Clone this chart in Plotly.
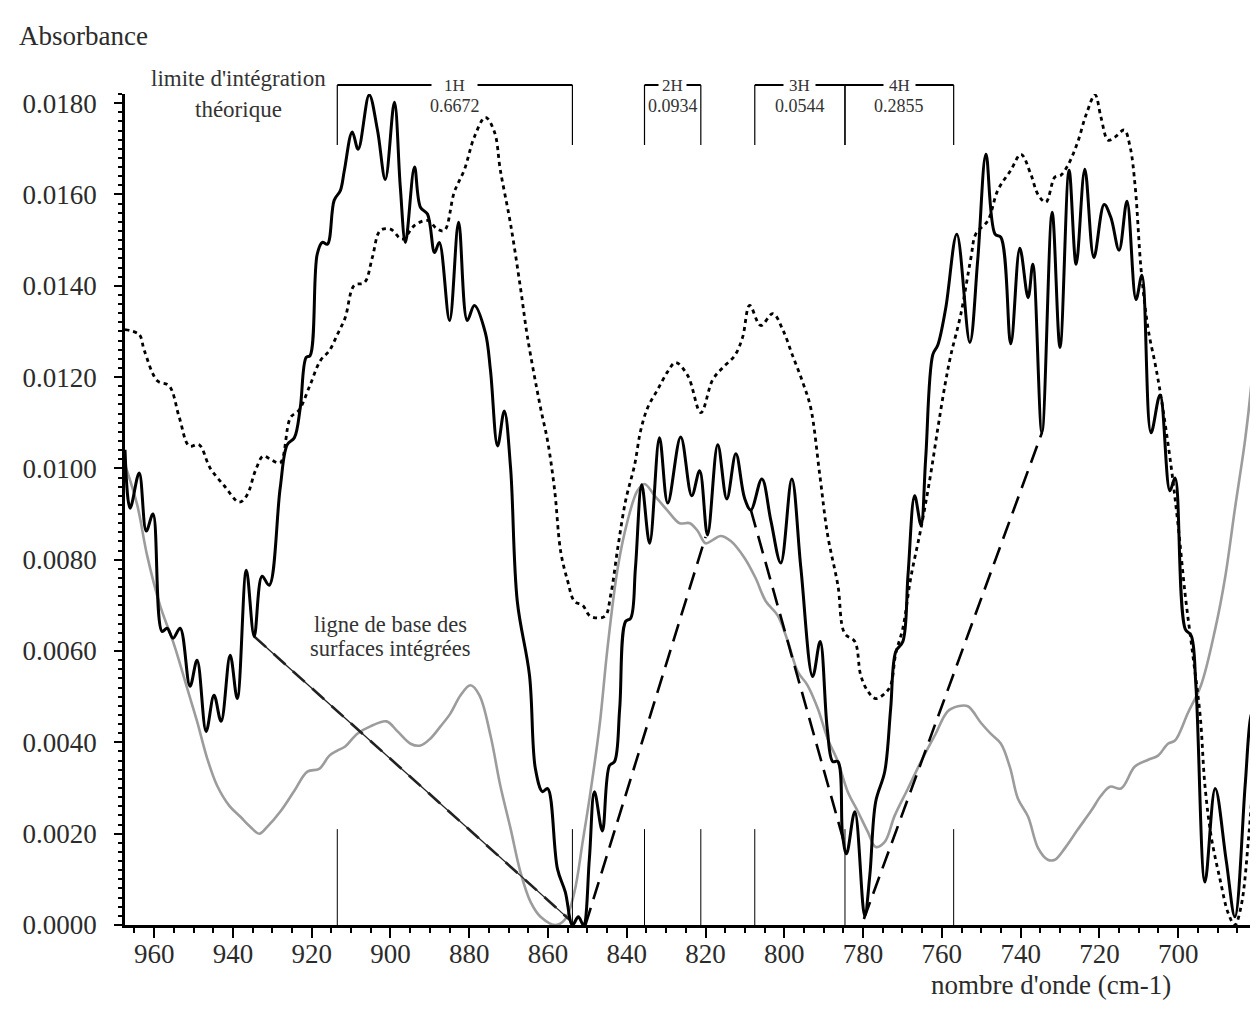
import plotly.graph_objects as go

# ---------------- data (wavenumber cm-1, absorbance) ----------------
solid_x = [967.4, 966.1, 963.8, 962.0, 960.3, 958.0, 956.7, 955.2, 953.4, 950.9, 949.1, 946.8, 944.8, 943.0,
           940.7, 938.9, 936.6, 934.6, 932.6, 930.8, 928.0, 926.2, 924.4, 922.9, 921.4, 920.4, 918.6, 917.3,
           916.0, 914.3, 912.7, 911.7, 909.7, 908.2, 905.4, 903.3, 901.3, 899.0, 897.5, 896.2, 893.9, 892.4,
           890.6, 888.8, 887.6, 885.0, 882.7, 880.5, 878.7, 875.9, 874.6, 872.8, 871.1, 869.5, 867.8, 864.7,
           863.2, 861.4, 860.1, 857.6, 855.6, 853.8, 852.3, 851.0, 849.5, 848.2, 846.2, 844.4, 843.1, 841.8,
           840.3, 839.0, 837.8, 836.2, 834.2, 831.7, 829.6, 826.3, 823.5, 821.5, 819.5, 816.9, 814.6, 812.3,
           810.1, 808.5, 805.7, 803.4, 800.9, 798.1, 795.8, 792.8, 790.9, 789.1, 787.7, 786.4, 785.2, 784.2,
           782.1, 779.6, 778.3, 776.8, 774.5, 773.0, 771.7, 769.9, 768.6, 766.9, 765.3, 764.1, 762.3, 761.0,
           759.0, 756.2, 752.9, 750.9, 748.8, 746.5, 745.0, 742.5, 740.2, 738.1, 736.9, 734.6, 732.0, 730.0,
           727.7, 725.9, 723.7, 721.4, 718.8, 717.1, 715.0, 713.0, 710.7, 709.2, 706.9, 704.6, 702.1, 700.8,
           698.2, 696.7, 695.5, 693.2, 690.6, 687.8, 685.6, 683.0, 681.7, 680.5, 679.2, 677.7]
solid_y = [0.01041, 0.00913, 0.00990, 0.00863, 0.00900, 0.00643, 0.00650, 0.00628, 0.00650, 0.00523, 0.00580,
           0.00424, 0.00503, 0.00446, 0.00591, 0.00496, 0.00777, 0.00632, 0.00764, 0.00744, 0.00957, 0.01052,
           0.01067, 0.01133, 0.01243, 0.01247, 0.01469, 0.01495, 0.01491, 0.01587, 0.01609, 0.01653, 0.01737,
           0.01699, 0.01818, 0.01741, 0.01633, 0.01802, 0.01616, 0.01495, 0.01660, 0.01572, 0.01557, 0.01473,
           0.01495, 0.01324, 0.01539, 0.01324, 0.01357, 0.01297, 0.01214, 0.01049, 0.01126, 0.01001, 0.00709,
           0.00547, 0.00342, 0.00292, 0.00299, 0.00123, 0.00072, 0.00000, 0.00018, 0.00000, 0.00145, 0.00292,
           0.00206, 0.00349, 0.00358, 0.00474, 0.00665, 0.00672, 0.00782, 0.00964, 0.00836, 0.01067, 0.00924,
           0.01069, 0.00940, 0.00995, 0.00854, 0.01052, 0.00933, 0.01032, 0.00935, 0.00909, 0.00977, 0.00885,
           0.00793, 0.00977, 0.00782, 0.00544, 0.00621, 0.00430, 0.00358, 0.00358, 0.00195, 0.00156, 0.00248,
           0.00020, 0.00108, 0.00270, 0.00336, 0.00474, 0.00599, 0.00621, 0.00766, 0.00940, 0.00876, 0.01023,
           0.01249, 0.01271, 0.01352, 0.01513, 0.01276, 0.01456, 0.01688, 0.01513, 0.01506, 0.01273, 0.01482,
           0.01374, 0.01447, 0.01078, 0.01561, 0.01265, 0.01653, 0.01447, 0.01655, 0.01462, 0.01578, 0.01550,
           0.01478, 0.01585, 0.01370, 0.01423, 0.01078, 0.01161, 0.00951, 0.00979, 0.00648, 0.00634, 0.00525,
           0.00094, 0.00299, 0.00141, 0.00018, 0.00305, 0.00450, 0.00496, 0.00951, 0.01210]

dotted_x = [967.4, 963.8, 962.5, 959.2, 956.2, 953.6, 951.1, 948.6, 945.8, 942.2, 938.4, 936.4, 934.3, 932.3,
            930.3, 928.0, 925.4, 923.2, 920.4, 917.8, 915.5, 913.5, 911.5, 909.2, 906.6, 904.6, 902.6, 900.0,
            897.0, 893.9, 890.6, 888.1, 886.3, 883.8, 881.2, 878.7, 875.9, 873.6, 872.1, 869.5, 867.0, 865.2,
            861.9, 860.1, 858.3, 856.8, 855.0, 853.3, 851.2, 849.2, 845.6, 844.1, 842.3, 840.3, 838.0, 836.5,
            834.7, 832.2, 829.6, 827.6, 824.5, 821.2, 818.2, 815.6, 812.6, 810.6, 808.8, 806.0, 802.9, 800.4,
            797.9, 795.3, 793.3, 791.0, 789.0, 786.4, 784.7, 782.1, 780.6, 778.8, 776.8, 774.5, 773.0, 771.7,
            769.9, 767.9, 765.3, 763.0, 761.0, 759.2, 757.7, 755.2, 752.6, 751.4, 748.3, 745.8, 742.5, 739.9,
            737.4, 735.6, 733.6, 731.3, 729.8, 728.0, 725.5, 723.4, 721.1, 719.6, 717.8, 716.0, 713.7, 712.2,
            710.9, 709.4, 707.6, 705.8, 704.4, 701.8, 700.0, 698.2, 696.2, 694.4, 693.2, 691.6, 689.4, 687.3,
            685.6, 684.0, 682.1, 680.5, 679.2, 677.7]
dotted_y = [0.01304, 0.01293, 0.01258, 0.01192, 0.01181, 0.01111, 0.01049, 0.01052, 0.01001, 0.00962, 0.00926,
            0.00942, 0.00995, 0.01027, 0.01019, 0.01012, 0.01111, 0.01128, 0.01183, 0.01236, 0.01258, 0.01293,
            0.01330, 0.01401, 0.01407, 0.01462, 0.01521, 0.01524, 0.01502, 0.01532, 0.01543, 0.01524, 0.01521,
            0.01605, 0.01655, 0.01726, 0.01769, 0.01737, 0.01653, 0.01535, 0.01396, 0.01287, 0.01133, 0.01060,
            0.00951, 0.00819, 0.00753, 0.00709, 0.00700, 0.00676, 0.00676, 0.00722, 0.00825, 0.00929, 0.01008,
            0.01082, 0.01133, 0.01172, 0.01212, 0.01232, 0.01203, 0.01122, 0.01194, 0.01221, 0.01247, 0.01287,
            0.01357, 0.01313, 0.01339, 0.01304, 0.01247, 0.01188, 0.01133, 0.00986, 0.00854, 0.00744, 0.00639,
            0.00621, 0.00547, 0.00512, 0.00496, 0.00507, 0.00525, 0.00595, 0.00650, 0.00760, 0.00869, 0.00979,
            0.01089, 0.01183, 0.01249, 0.01337, 0.01462, 0.01513, 0.01543, 0.01609, 0.01653, 0.01688, 0.01644,
            0.01600, 0.01583, 0.01638, 0.01642, 0.01664, 0.01715, 0.01774, 0.01818, 0.01769, 0.01719, 0.01726,
            0.01741, 0.01704, 0.01616, 0.01434, 0.01304, 0.01227, 0.01159, 0.01005, 0.00874, 0.00722, 0.00586,
            0.00457, 0.00305, 0.00193, 0.00101, 0.00026, 0.00000, 0.00042, 0.00193, 0.00382, 0.00571, 0.00782]

gray_x = [967.4, 964.3, 961.8, 958.5, 954.9, 951.6, 949.1, 946.5, 944.0, 940.9, 938.1, 935.6, 933.3, 931.3,
          928.0, 924.4, 921.1, 918.1, 915.5, 913.5, 911.5, 908.4, 905.1, 901.0, 898.2, 894.9, 892.4, 889.9,
          887.3, 884.8, 882.2, 879.7, 877.4, 874.6, 872.1, 869.5, 867.0, 864.4, 861.9, 858.1, 855.6, 853.3,
          851.2, 849.2, 846.9, 844.9, 842.3, 839.8, 837.3, 835.5, 832.9, 829.6, 826.6, 824.0, 822.0, 820.0,
          818.2, 816.2, 813.6, 810.1, 807.3, 804.7, 801.7, 799.1, 796.6, 794.1, 791.5, 789.0, 786.4, 783.9,
          781.3, 778.8, 776.8, 774.5, 772.0, 768.6, 765.3, 761.8, 758.5, 755.9, 753.4, 750.1, 747.6, 745.0,
          742.7, 740.7, 738.1, 735.6, 733.1, 731.3, 728.7, 725.5, 722.1, 719.6, 717.3, 714.5, 711.0, 707.6,
          705.1, 702.6, 700.8, 697.5, 694.2, 690.6, 688.1, 685.6, 683.0, 681.5, 679.7, 677.7]
gray_y = [0.01008, 0.00920, 0.00810, 0.00700, 0.00613, 0.00518, 0.00446, 0.00364, 0.00305, 0.00261, 0.00237,
          0.00215, 0.00200, 0.00215, 0.00248, 0.00294, 0.00336, 0.00342, 0.00371, 0.00382, 0.00391, 0.00419,
          0.00435, 0.00446, 0.00424, 0.00397, 0.00393, 0.00408, 0.00435, 0.00463, 0.00503, 0.00525, 0.00503,
          0.00415, 0.00305, 0.00211, 0.00116, 0.00050, 0.00018, 0.00000, 0.00013, 0.00072, 0.00182, 0.00292,
          0.00437, 0.00606, 0.00782, 0.00885, 0.00951, 0.00966, 0.00940, 0.00907, 0.00880, 0.00880, 0.00863,
          0.00836, 0.00843, 0.00852, 0.00841, 0.00804, 0.00760, 0.00709, 0.00678, 0.00621, 0.00555, 0.00525,
          0.00474, 0.00408, 0.00358, 0.00292, 0.00248, 0.00204, 0.00171, 0.00182, 0.00239, 0.00299, 0.00358,
          0.00415, 0.00468, 0.00479, 0.00479, 0.00443, 0.00419, 0.00397, 0.00345, 0.00277, 0.00237, 0.00169,
          0.00143, 0.00143, 0.00169, 0.00209, 0.00250, 0.00283, 0.00303, 0.00299, 0.00347, 0.00362, 0.00371,
          0.00397, 0.00404, 0.00465, 0.00525, 0.00648, 0.00760, 0.00911, 0.01063, 0.01177, 0.01381, 0.01578]

# integration baselines (start, end) pairs
baseline1_x = [934.6, 854.2]
baseline1_y = [0.00632, 0.00009]
baseline2_x = [850.5, 820.0]
baseline2_y = [0.00000, 0.00850]
baseline3_x = [808.5, 784.8]
baseline3_y = [0.00909, 0.00180]
baseline4_x = [779.8, 734.6]
baseline4_y = [0.00013, 0.01078]

# theoretical integration limits
limits = [913.5, 853.8, 835.5, 821.2, 807.5, 784.6, 757.0]
groups = [(913.5, 853.8), (835.5, 821.2), (807.5, 784.6), (784.6, 757.0)]
group_labels = ["1H", "2H", "3H", "4H"]
group_values = ["0.6672", "0.0934", "0.0544", "0.2855"]

x_ticks = [960, 940, 920, 900, 880, 860, 840, 820, 800, 780, 760, 740, 720, 700]
y_ticks = [0.0, 0.002, 0.004, 0.006, 0.008, 0.010, 0.012, 0.014, 0.016, 0.018]

FONT = "Liberation Serif, Times New Roman, serif"
TXT = "#2b2b2b"

fig = go.Figure()
fig.add_trace(go.Scatter(x=gray_x, y=gray_y, mode="lines",
                         line=dict(color="#9c9c9c", width=2.6, shape="spline", smoothing=1.0), hoverinfo="skip"))
fig.add_trace(go.Scatter(x=dotted_x, y=dotted_y, mode="lines",
                         line=dict(color="black", width=2.8, dash="4px,4px", shape="spline", smoothing=1.0),
                         hoverinfo="skip"))
fig.add_trace(go.Scatter(x=baseline1_x, y=baseline1_y, mode="lines",
                         line=dict(color="#222", width=1.3), hoverinfo="skip"))
fig.add_trace(go.Scatter(x=baseline1_x, y=baseline1_y, mode="lines",
                         line=dict(color="#222", width=2.6, dash="16px,10px"), hoverinfo="skip"))
for bx, by in [(baseline2_x, baseline2_y), (baseline3_x, baseline3_y), (baseline4_x, baseline4_y)]:
    fig.add_trace(go.Scatter(x=bx, y=by, mode="lines",
                             line=dict(color="black", width=2.6, dash="18px,9px"), hoverinfo="skip"))
fig.add_trace(go.Scatter(x=solid_x, y=solid_y, mode="lines",
                         line=dict(color="black", width=3, shape="spline", smoothing=1.0), hoverinfo="skip"))

# vertical limit markers at the bottom
for lx in limits:
    fig.add_shape(type="line", xref="x", yref="y", x0=lx, x1=lx, y0=0, y1=0.0021,
                  line=dict(color="black", width=1))

# brackets at the top
Y_TOP = 1.0108
Y_BOT = 0.9386
pads = [12, 3, 5, 5]
for (a, b), lab, val, pad in zip(groups, group_labels, group_values, pads):
    fig.add_shape(type="line", xref="x", yref="paper", x0=a, x1=b, y0=Y_TOP, y1=Y_TOP,
                  line=dict(color="black", width=2))
    for v in (a, b):
        fig.add_shape(type="line", xref="x", yref="paper", x0=v, x1=v, y0=Y_TOP, y1=Y_BOT,
                      line=dict(color="black", width=1.2))
    mid = (a + b) / 2
    fig.add_annotation(x=mid, y=Y_TOP, xref="x", yref="paper", text=lab, showarrow=False,
                       font=dict(family=FONT, size=17, color="#333"), bgcolor="white", borderpad=pad,
                       xanchor="center", yanchor="middle")
    fig.add_annotation(x=mid, y=0.9856, xref="x", yref="paper", text=val, showarrow=False,
                       font=dict(family=FONT, size=18, color="#333"), xanchor="center", yanchor="middle")

# text annotations
fig.add_annotation(x=-0.095, y=1.0698, xref="paper", yref="paper", text="Absorbance", showarrow=False,
                   font=dict(family=FONT, size=27, color=TXT), xanchor="left", yanchor="middle")
fig.add_annotation(x=938.7, y=1.019, xref="x", yref="paper", text="limite d'intégration", showarrow=False,
                   font=dict(family=FONT, size=23, color="#333"), xanchor="center", yanchor="middle")
fig.add_annotation(x=938.7, y=0.981, xref="x", yref="paper", text="théorique", showarrow=False,
                   font=dict(family=FONT, size=23, color="#333"), xanchor="center", yanchor="middle")
fig.add_annotation(x=900.0, y=0.00658, xref="x", yref="y", text="ligne de base des", showarrow=False,
                   font=dict(family=FONT, size=22.5, color="#333"), xanchor="center", yanchor="middle")
fig.add_annotation(x=900.0, y=0.00606, xref="x", yref="y", text="surfaces intégrées", showarrow=False,
                   font=dict(family=FONT, size=22.5, color="#333"), xanchor="center", yanchor="middle")
fig.add_annotation(x=0.9185, y=-0.0722, xref="paper", yref="paper", text="nombre d'onde (cm-1)",
                   showarrow=False, font=dict(family=FONT, size=27, color=TXT),
                   xanchor="right", yanchor="middle")

fig.update_layout(width=1258, height=1010, margin=dict(l=117, r=0, t=86, b=93),
                  paper_bgcolor="white", plot_bgcolor="white", showlegend=False,
                  font=dict(family=FONT, size=27, color=TXT))
fig.update_xaxes(range=[967.4, 677.7], tickvals=x_ticks + [680], ticktext=[str(v) for v in x_ticks] + [""],
                 ticks="outside", ticklen=10, tickwidth=2, tickcolor="black", ticklabelstandoff=-7,
                 showline=True, linewidth=2.5, linecolor="black", showgrid=False, zeroline=False,
                 minor=dict(dtick=5, tick0=0, ticks="outside", ticklen=5, tickwidth=1.5, tickcolor="black",
                            showgrid=False),
                 tickfont=dict(family=FONT, size=27, color=TXT))
fig.update_yaxes(range=[0, 0.0182], tickvals=y_ticks, ticktext=[f"{v:.4f}" for v in y_ticks],
                 ticks="outside", ticklen=8, tickwidth=2, tickcolor="black", ticklabelstandoff=12,
                 showline=True, linewidth=2.5, linecolor="black", showgrid=False, zeroline=False,
                 minor=dict(dtick=0.0002, tick0=0, ticks="outside", ticklen=4, tickwidth=1.5, tickcolor="black",
                            showgrid=False),
                 tickfont=dict(family=FONT, size=27, color=TXT))

fig.write_html("out.html")
